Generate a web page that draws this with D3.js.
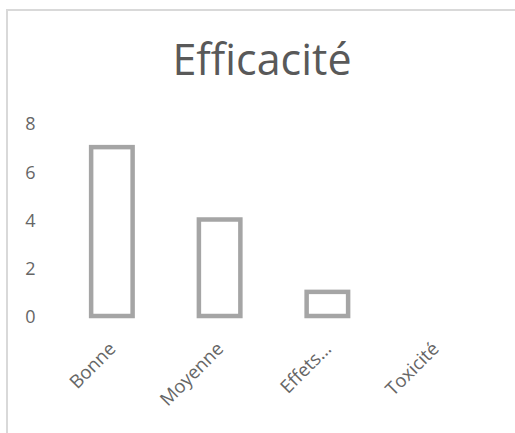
<!DOCTYPE html>
<html>
<head>
<meta charset="utf-8">
<script src="https://cdn.jsdelivr.net/npm/d3@7"></script>
<style>
  html, body { margin: 0; padding: 0; background: #fff; }
  svg { display: block; }
  text { font-family: "Open Sans", sans-serif; fill: #595959; }
</style>
</head>
<body>
<svg id="chart" width="515" height="433"></svg>
<script>
// Chart data
const title = "Efficacité";
const categories = ["Bonne", "Moyenne", "Effets…", "Toxicité"];
const values = [7, 4, 1, 0];
const yTicks = [0, 2, 4, 6, 8];

const svg = d3.select("#chart");

// Chart area frame (continues past the right and bottom edges)
svg.append("rect")
  .attr("x", 7).attr("y", 10)
  .attr("width", 620).attr("height", 620)
  .attr("fill", "#fff")
  .attr("stroke", "#d9d9d9")
  .attr("stroke-width", 2);

// Title
svg.append("text")
  .attr("x", 262).attr("y", 75)
  .attr("text-anchor", "middle")
  .style("font-size", "43px")
  .text(title);

// Scales
const x = d3.scaleBand()
  .domain(categories)
  .range([58, 489])
  .paddingInner(0.615)
  .paddingOuter(0.3075);

const y = d3.scaleLinear()
  .domain([0, 8])
  .range([316, 123]);

// Y axis labels only (no line, no ticks)
const yAxis = svg.append("g")
  .attr("transform", "translate(35.5,1)")
  .call(d3.axisLeft(y).tickValues(yTicks).tickSize(0).tickPadding(0));
yAxis.attr("font-size", null).attr("font-family", null);
yAxis.select(".domain").remove();
yAxis.selectAll("text")
  .style("font-size", "18px")
  .style("font-family", "'Open Sans', sans-serif")
  .style("fill", "#666")
  .attr("fill", null);

// Bars: outlined, white fill
svg.append("g")
  .selectAll("rect")
  .data(values)
  .join("rect")
  .attr("x", (d, i) => x(categories[i]))
  .attr("width", x.bandwidth())
  .attr("y", d => y(d))
  .attr("height", d => y(0) - y(d))
  .attr("fill", "#fff")
  .attr("stroke", "#a5a5a5")
  .attr("stroke-width", 4.5)
  .attr("display", d => d > 0 ? null : "none");

// Category labels, rotated 45°
svg.append("g")
  .selectAll("text")
  .data(categories)
  .join("text")
  .attr("transform", d => `translate(${x(d) + x.bandwidth() / 2 + 5},350) rotate(-45)`)
  .attr("text-anchor", "end")
  .style("font-size", "18.5px")
  .style("fill", "#666")
  .text(d => d);
</script>
</body>
</html>
